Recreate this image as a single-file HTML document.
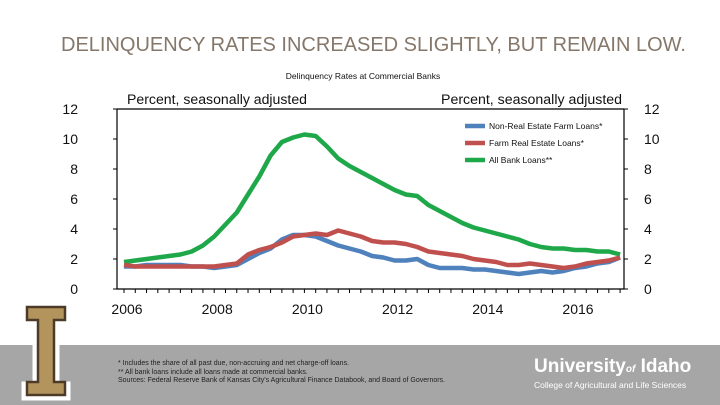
<!DOCTYPE html>
<html><head><meta charset="utf-8">
<style>
body{margin:0;width:720px;height:405px;overflow:hidden;background:#fff;font-family:"Liberation Sans",sans-serif;position:relative}
.t{position:absolute;white-space:nowrap}
</style></head><body>
<div class="t" style="left:0;width:747px;text-align:center;top:34px;font-size:20px;color:#85776a">DELINQUENCY RATES INCREASED SLIGHTLY, BUT REMAIN LOW.</div>
<div class="t" style="left:0;top:345px;width:720px;height:60px;background:#a6a6a6"></div>
<svg width="720" height="405" style="position:absolute;left:0;top:0">
<path d="M24 304 H68 V318 H57 V384 H68 V398 H24 V384 H35 V318 H24 Z" fill="#fff" stroke="#fff" stroke-width="5"/>
<path d="M27 307 H65 V320 H54 V382 H65 V395 H27 V382 H38 V320 H27 Z" fill="#b3945c" stroke="#4d3b28" stroke-width="2.5"/>
</svg>
<div class="t" style="left:118px;top:360px;font-size:7px;line-height:8.5px;color:#222">* Includes the share of all past due, non-accruing and net charge-off loans.<br>** All bank loans include all loans made at commercial banks.<br>Sources: Federal Reserve Bank of Kansas City's Agricultural Finance Databook, and Board of Governors.</div>
<div class="t" style="left:534px;top:356px;font-size:19px;color:#fff;font-weight:bold">University<span style="font-size:10px;font-style:italic">of</span> Idaho</div>
<div class="t" style="left:534px;top:380px;font-size:8.5px;color:#fff">College of Agricultural and Life Sciences</div>
<svg id="chart" width="720" height="405" style="position:absolute;left:0;top:0;font-family:'Liberation Sans',sans-serif"></svg>
<script>
const years=[2006,2008,2010,2012,2014,2016];
const yTicks=[0,2,4,6,8,10,12];
const startYear=2006;
const greenVals=[1.8,1.9,2.0,2.1, 2.2,2.3,2.5,2.9, 3.5,4.3,5.1,6.3, 7.5,8.9,9.8,10.1, 10.3,10.2,9.5,8.7, 8.2,7.8,7.4,7.0, 6.6,6.3,6.2,5.6, 5.2,4.8,4.4,4.1, 3.9,3.7,3.5,3.3, 3.0,2.8,2.7,2.7, 2.6,2.6,2.5,2.5, 2.3];
const blueVals=[1.5,1.5,1.6,1.6, 1.6,1.6,1.5,1.5, 1.4,1.5,1.6,2.0, 2.4,2.7,3.3,3.6, 3.6,3.5,3.2,2.9, 2.7,2.5,2.2,2.1, 1.9,1.9,2.0,1.6, 1.4,1.4,1.4,1.3, 1.3,1.2,1.1,1.0, 1.1,1.2,1.1,1.2, 1.4,1.5,1.7,1.8, 2.1];
const redVals=[1.6,1.5,1.5,1.5, 1.5,1.5,1.5,1.5, 1.5,1.6,1.7,2.3, 2.6,2.8,3.1,3.5, 3.6,3.7,3.6,3.9, 3.7,3.5,3.2,3.1, 3.1,3.0,2.8,2.5, 2.4,2.3,2.2,2.0, 1.9,1.8,1.6,1.6, 1.7,1.6,1.5,1.4, 1.5,1.7,1.8,1.9, 2.1];
const seriesNames=["Non-Real Estate Farm Loans*","Farm Real Estate Loans*","All Bank Loans**"];
const svg=document.getElementById('chart');
const NS='http://www.w3.org/2000/svg';
const X=t=>124+45.1*(t-2006);
const Y=v=>289-15*v;
function mk(tag,attrs,parent){const e=document.createElementNS(NS,tag);for(const k in attrs)e.setAttribute(k,attrs[k]);(parent||svg).appendChild(e);return e;}
function txt(s,attrs){const e=mk('text',attrs);e.textContent=s;return e;}
let e;
e=txt('Delinquency Rates at Commercial Banks',{x:363,y:79,'font-size':8.5,'text-anchor':'middle',fill:'#111'});


e=txt('Percent, seasonally adjusted',{x:127,y:104,'font-size':13.5,fill:'#111',textLength:180,lengthAdjust:'spacingAndGlyphs'});


e=txt('Percent, seasonally adjusted',{x:441,y:104,'font-size':13.5,fill:'#111',textLength:181,lengthAdjust:'spacingAndGlyphs'});


e=mk('path',{d:`M117 ${Y(12)} H624 M117 ${Y(12)} V${Y(0)} H624 V${Y(12)}`,stroke:'#000','stroke-width':1.2,fill:'none'});


yTicks.forEach(v=>{
 e=mk('line',{x1:113,x2:117,y1:Y(v),y2:Y(v),stroke:'#000'});
 
 
 e=mk('line',{x1:624,x2:628,y1:Y(v),y2:Y(v),stroke:'#000'});
 
 
 e=txt(String(v),{x:78,y:Y(v)+5,'font-size':14,'text-anchor':'end',fill:'#111'});
 
 
 e=txt(String(v),{x:644,y:Y(v)+5,'font-size':14,fill:'#111'});
 
 
});
for(let i=0;i<=44;i++){
 e=mk('line',{x1:X(2006+i/4),x2:X(2006+i/4),y1:Y(0),y2:Y(0)+4,stroke:'#000'});
 
 
}
years.forEach(yr=>{
 e=txt(String(yr),{x:X(yr)+3,y:314,'font-size':14,'text-anchor':'middle',fill:'#111'});
 
 
});
function line(vals,color,name){
 const d=vals.map((v,i)=>(i?'L':'M')+X(startYear+i/4).toFixed(1)+' '+Y(v).toFixed(1)).join(' ');
 const p=mk('path',{d,stroke:color,'stroke-width':4.5,fill:'none','stroke-linejoin':'round'});
 
 
}
line(greenVals,'#1fa84a','all-bank-loans-line');
line(blueVals,'#4f81bd','non-real-estate-farm-loans-line');
line(redVals,'#c0504d','farm-real-estate-loans-line');
const legColors=['#4f81bd','#c0504d','#1fa84a'];
seriesNames.forEach((n,i)=>{
 const y=126+i*17;
 e=mk('line',{x1:465,x2:485,y1:y,y2:y,stroke:legColors[i],'stroke-width':4.5});
 
 
 e=txt(n,{x:489,y:y+3,'font-size':8.5,fill:'#111'});
 
 
});
</script>
</body></html>
